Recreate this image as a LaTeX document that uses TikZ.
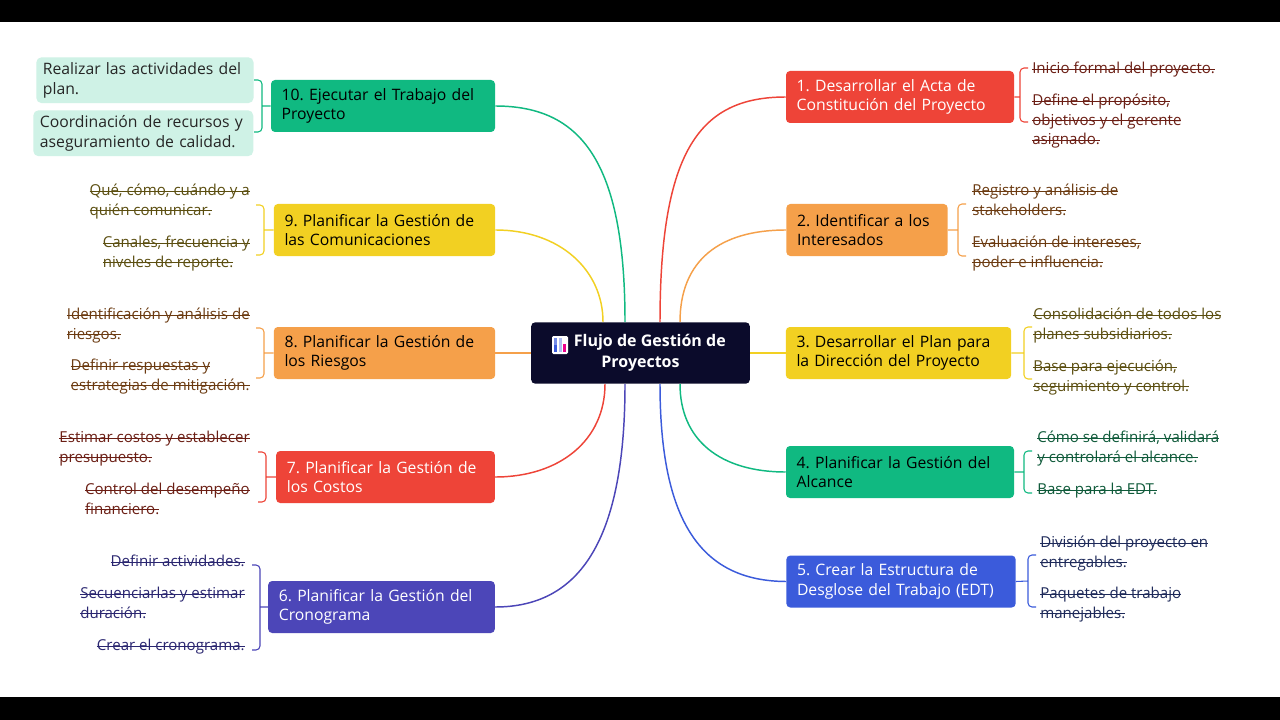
\documentclass[tikz,border=0pt]{standalone}
\usepackage{fontspec}
\setmainfont{Open Sans}
\frenchspacing
\newcommand\sout[1]{\setbox0\hbox{#1}\rlap{\rule[0.3em]{\wd0}{0.5pt}}\box0}
\begin{document}
\begin{tikzpicture}[x=0.75pt,y=-0.75pt,
 box/.style={rounded corners=3pt,inner xsep=8pt,inner ysep=2pt,align=left,minimum height=39pt,font=\fontsize{11.8}{14.5}\selectfont},
 leaf/.style={align=left,inner sep=0pt,font=\fontsize{11.3}{14.6}\selectfont},
 link/.style={line width=1.1pt},
 br/.style={line width=0.8pt,rounded corners=3pt}]
\definecolor{cnavy}{HTML}{0B0B2B}
\definecolor{cred}{HTML}{EE4438}
\definecolor{corg}{HTML}{F5A04A}
\definecolor{cyel}{HTML}{F2D022}
\definecolor{cgrn}{HTML}{10B981}
\definecolor{cblu}{HTML}{3B5BDB}
\definecolor{cind}{HTML}{4C46B8}
\definecolor{tred}{HTML}{6B1E14}
\definecolor{torg}{HTML}{6B3A10}
\definecolor{tyel}{HTML}{5B4E10}
\definecolor{tgrn}{HTML}{0F5A3A}
\definecolor{tblu}{HTML}{1E2A5A}
\definecolor{tind}{HTML}{2A2670}
\definecolor{mint}{HTML}{CFF2E6}
\useasboundingbox (0,0) rectangle (1280,720);
\fill[white] (0,0) rectangle (1280,720);
\fill[black] (0,0) rectangle (1280,22);
\fill[black] (0,697) rectangle (1280,720);

% center
\node[box,fill=cnavy,text=white,minimum width=164pt,minimum height=46pt,align=center,font=\fontsize{12}{15.5}\selectfont\bfseries] (c) at (640.5,353) {\hspace{14pt}Flujo de Gestión de\\Proyectos};
\begin{scope}[shift={(560,345)}]
 \fill[white,rounded corners=1pt] (-8,-9) rectangle (8,9);
 \fill[cblu!70] (-6,-7) rectangle (-3,7);
 \fill[cblu!40] (-1.5,-7) rectangle (1.5,7);
 \fill[magenta] (3,-1) rectangle (6,7);
 \fill[cblu] (-6,0) rectangle (-3,7);
\end{scope}

% right branches
\node[box,fill=cred,text=white,text width=155pt] (n1) at (900,97) {1. Desarrollar el Acta de\\Constitución del Proyecto};
\node[box,fill=corg,text=black,text width=105pt] (n2) at (867,230) {2. Identificar a los\\Interesados};
\node[box,fill=cyel,text=black,text width=153pt] (n3) at (898.5,353) {3. Desarrollar el Plan para\\la Dirección del Proyecto};
\node[box,fill=cgrn,text=black,text width=155pt] (n4) at (900,472) {4. Planificar la Gestión del\\Alcance};
\node[box,fill=cblu,text=white,text width=156pt] (n5) at (901,581.5) {5. Crear la Estructura de\\Desglose del Trabajo (EDT)};
% left branches
\node[box,fill=cgrn,text=black,text width=152pt] (n10) at (383,106) {10. Ejecutar el Trabajo del\\Proyecto};
\node[box,fill=cyel,text=black,text width=150pt] (n9) at (384.5,230) {9. Planificar la Gestión de\\las Comunicaciones};
\node[box,fill=corg,text=black,text width=150pt] (n8) at (384.5,353) {8. Planificar la Gestión de\\los Riesgos};
\node[box,fill=cred,text=white,text width=148pt] (n7) at (385.5,477) {7. Planificar la Gestión de\\los Costos};
\node[box,fill=cind,text=white,text width=154pt] (n6) at (381.5,607) {6. Planificar la Gestión del\\Cronograma};

% connectors
\coordinate (c1) at (660,322); \coordinate (c2) at (680,322);
\coordinate (c4) at (680,384); \coordinate (c5) at (660,384);
\coordinate (c10) at (625,322); \coordinate (c9) at (603,322);
\coordinate (c7) at (605,384); \coordinate (c6) at (625,384);
\draw[link,cred] (c1) .. controls (660,150) and (700,97) .. (n1.west);
\draw[link,corg] (c2) .. controls (680,260) and (720,230) .. (n2.west);
\draw[link,cyel] (c.east) -- (n3.west);
\draw[link,cgrn] (c4) .. controls (680,440) and (720,472) .. (n4.west);
\draw[link,cblu] (c5) .. controls (660,520) and (700,581) .. (n5.west);
\draw[link,cgrn] (c10) .. controls (625,160) and (580,106) .. (n10.east);
\draw[link,cyel] (c9) .. controls (603,270) and (560,230) .. (n9.east);
\draw[link,corg] (c.west) -- (n8.east);
\draw[link,cred] (c7) .. controls (605,440) and (560,477) .. (n7.east);
\draw[link,cind] (c6) .. controls (625,540) and (580,607) .. (n6.east);

% right leaves
\draw[br,cred] (n1.east) -- (1020,97) (1028,68) -- (1020,68) -- (1020,122) -- (1028,122);
\node[leaf,text=tred,anchor=north west] (l1a) at (1032,62) {\sout{Inicio formal del proyecto.}};
\node[leaf,text=tred,anchor=north west] (l1b) at (1032,94) {\sout{Define el propósito,}\\\sout{objetivos y el gerente}\\\sout{asignado.}};

\draw[br,corg] (n2.east) -- (958,230) (966,204) -- (958,204) -- (958,256) -- (966,256);
\node[leaf,text=torg,anchor=north west] (l2a) at (972,184) {\sout{Registro y análisis de}\\\sout{stakeholders.}};
\node[leaf,text=torg,anchor=north west] (l2b) at (972,236) {\sout{Evaluación de intereses,}\\\sout{poder e influencia.}};

\draw[br,cyel] (n3.east) -- (1024,353) (1032,327) -- (1024,327) -- (1024,379) -- (1032,379);
\node[leaf,text=tyel,anchor=north west] (l3a) at (1033,308) {\sout{Consolidación de todos los}\\\sout{planes subsidiarios.}};
\node[leaf,text=tyel,anchor=north west] (l3b) at (1033,360) {\sout{Base para ejecución,}\\\sout{seguimiento y control.}};

\draw[br,cgrn] (n4.east) -- (1024,472) (1032,451) -- (1024,451) -- (1024,493) -- (1032,493);
\node[leaf,text=tgrn,anchor=north west] (l4a) at (1037,431) {\sout{Cómo se definirá, validará}\\\sout{y controlará el alcance.}};
\node[leaf,text=tgrn,anchor=north west] (l4b) at (1037,483) {\sout{Base para la EDT.}};

\draw[br,cblu] (n5.east) -- (1028,581) (1036,555) -- (1028,555) -- (1028,607) -- (1036,607);
\node[leaf,text=tblu,anchor=north west] (l5a) at (1040,536) {\sout{División del proyecto en}\\\sout{entregables.}};
\node[leaf,text=tblu,anchor=north west] (l5b) at (1040,587) {\sout{Paquetes de trabajo}\\\sout{manejables.}};

% left leaves
\draw[br,cgrn] (n10.west) -- (262,106) (254,80) -- (262,80) -- (262,132) -- (254,132);
\node[leaf,fill=mint,rounded corners=4pt,text=black!85,anchor=north west,inner xsep=5pt,inner ysep=4pt,text width=153pt,font=\fontsize{11.8}{14.6}\selectfont] (l10a) at (36,57) {Realizar las actividades del\\plan.};
\node[leaf,fill=mint,rounded corners=4pt,text=black!85,anchor=north west,inner xsep=5pt,inner ysep=4pt,text width=155pt,font=\fontsize{11.8}{14.6}\selectfont] (l10b) at (33,110) {Coordinación de recursos y\\aseguramiento de calidad.};

\draw[br,cyel] (n9.west) -- (264,230) (256,205) -- (264,205) -- (264,255) -- (256,255);
\node[leaf,text=tyel,anchor=north east] (l9a) at (250,184) {\sout{Qué, cómo, cuándo y a}\\\sout{quién comunicar.}};
\node[leaf,text=tyel,anchor=north east] (l9b) at (250,236) {\sout{Canales, frecuencia y}\\\sout{niveles de reporte.}};

\draw[br,corg] (n8.west) -- (264,353) (256,328) -- (264,328) -- (264,378) -- (256,378);
\node[leaf,text=torg,anchor=north east] (l8a) at (250,308) {\sout{Identificación y análisis de}\\\sout{riesgos.}};
\node[leaf,text=torg,anchor=north east] (l8b) at (250,359) {\sout{Definir respuestas y}\\\sout{estrategias de mitigación.}};

\draw[br,cred] (n7.west) -- (266,477) (258,452) -- (266,452) -- (266,502) -- (258,502);
\node[leaf,text=tred,anchor=north east] (l7a) at (250,431) {\sout{Estimar costos y establecer}\\\sout{presupuesto.}};
\node[leaf,text=tred,anchor=north east] (l7b) at (250,483) {\sout{Control del desempeño}\\\sout{financiero.}};

\draw[br,cind] (n6.west) -- (260,607) (252,565) -- (260,565) -- (260,650) -- (252,650);
\node[leaf,text=tind,anchor=north east] (l6a) at (245,555) {\sout{Definir actividades.}};
\node[leaf,text=tind,anchor=north east] (l6b) at (245,587) {\sout{Secuenciarlas y estimar}\\\sout{duración.}};
\node[leaf,text=tind,anchor=north east] (l6c) at (245,639) {\sout{Crear el cronograma.}};
\end{tikzpicture}
\end{document}
